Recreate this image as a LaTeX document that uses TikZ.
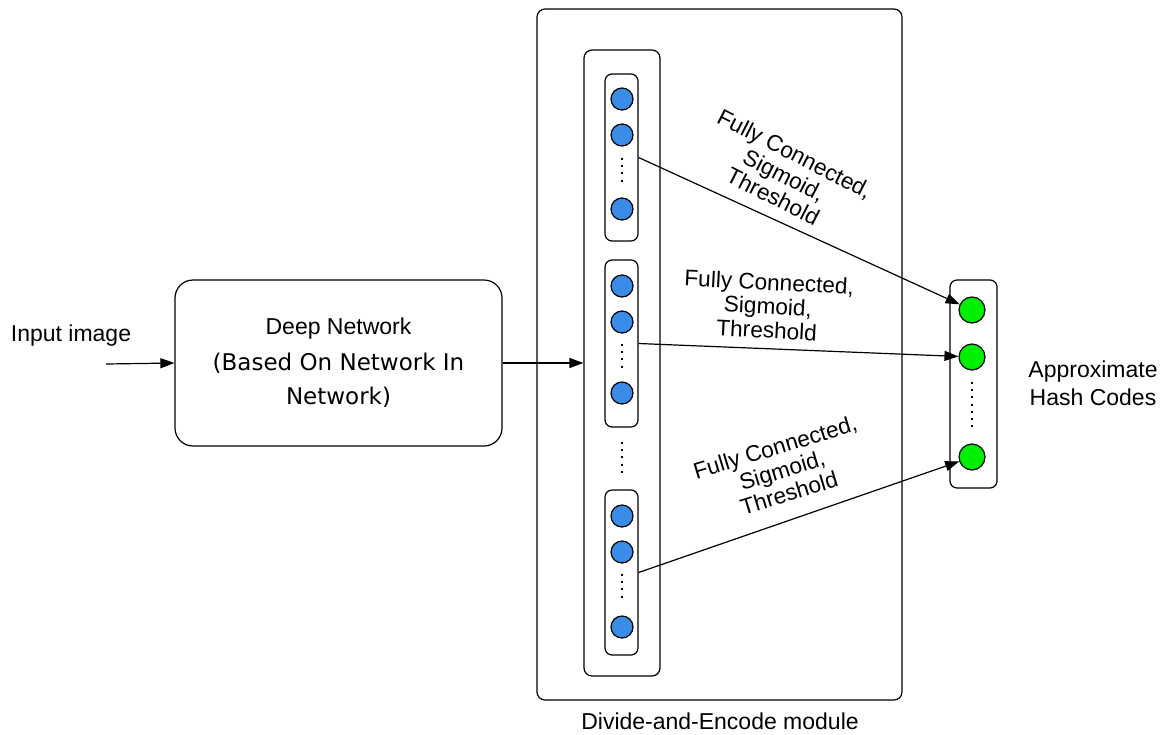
\documentclass[tikz,border=0pt]{standalone}
\usepackage{fontspec}
\setmainfont{Liberation Sans}
\newfontfamily\lucidafont{DejaVu Sans}
\usepackage{xcolor}
\usetikzlibrary{arrows.meta,positioning}

\definecolor{unitblue}{RGB}{58,140,232}
\definecolor{codegreen}{RGB}{0,238,0}

\begin{document}
\begin{tikzpicture}[
    x=0.5pt, y=-0.5pt,
    font=\fontsize{11.5}{11}\selectfont,
    line width=0.6pt,
    outerbox/.style={rectangle, draw, rounded corners=4pt, minimum width=182.5pt, minimum height=345.5pt, inner sep=0pt},
    colbox/.style={rectangle, draw, rounded corners=4pt, minimum width=38pt, minimum height=313pt, inner sep=0pt},
    grpbox/.style={rectangle, draw, rounded corners=3.5pt, minimum width=16.5pt, minimum height=83.5pt, inner sep=0pt},
    hashbox/.style={rectangle, draw, rounded corners=3.5pt, minimum width=23.5pt, minimum height=104pt, inner sep=0pt},
    netbox/.style={rectangle, draw, rounded corners=9pt, minimum width=163.5pt, minimum height=83pt, align=center},
    unit/.style={circle, draw, fill=unitblue, minimum size=11pt, inner sep=0pt},
    bit/.style={circle, draw, fill=codegreen, minimum size=13pt, inner sep=0pt},
    vdots/.style={line width=1pt, dash pattern=on 1pt off 2.6pt},
    fclabel/.style={align=center, inner sep=0pt, font=\fontsize{11.3}{12}\selectfont},
    arrow/.style={-{Triangle[length=7pt, width=5pt]}}
]
    \useasboundingbox (0,0) rectangle (1166,734);

    % left part
    \node (inlabel) at (71,336) {Input image};
    \coordinate (inp) at (106,364);
    \node [netbox] (deep) at (338.5,363) {Deep Network\\[6pt]{\lucidafont (Based On Network In}\\[6pt]{\lucidafont Network)}};
    \draw [arrow] (inp) -- (deep.west);

    % divide-and-encode module
    \node [outerbox] (dae) at (719.5,354.5) {};
    \node (daelabel) at (720,721) {Divide-and-Encode module};
    \node [colbox] (col) at (622,363) {};
    \draw [arrow] (deep.east) -- (deep.east -| col.west);

    \node [grpbox] (g1) at (621.5,157.5) {};
    \node [unit] (g1a) at (622,99) {};
    \node [unit] (g1b) at (622,135) {};
    \node [unit] (g1c) at (622,209) {};
    \draw [vdots] (622,158) -- (622,186);

    \node [grpbox] (g2) at (621.5,343.5) {};
    \node [unit] (g2a) at (622,286) {};
    \node [unit] (g2b) at (622,322) {};
    \node [unit] (g2c) at (622,393) {};
    \draw [vdots] (622,344) -- (622,372);

    \draw [vdots] (622,442) -- (622,475);

    \node [grpbox, minimum height=82.5pt] (g3) at (621.5,572.5) {};
    \node [unit] (g3a) at (622,516) {};
    \node [unit] (g3b) at (622,552) {};
    \node [unit] (g3c) at (622,627) {};
    \draw [vdots] (622,574) -- (622,602);

    % hash codes
    \node [hashbox] (hash) at (973.5,384) {};
    \node [bit] (o1) at (972,310) {};
    \node [bit] (o2) at (972,357) {};
    \node [bit] (o3) at (972,457) {};
    \draw [vdots] (972,382) -- (972,430);
    \node [align=center] (hashlabel) at (1093,383) {Approximate\\[3pt]Hash Codes};

    \draw [arrow] (g1.east) -- (o1);
    \draw [arrow] (g2.east) -- (o2);
    \draw [arrow] (g3.east) -- (o3);

    \node [fclabel, rotate=-27] (fc1) at (784,175) {Fully Connected,\\Sigmoid,\\Threshold};
    \node [fclabel, rotate=-3] (fc2) at (768,306) {Fully Connected,\\Sigmoid,\\Threshold};
    \node [fclabel, rotate=17] (fc3) at (782,470) {Fully Connected,\\Sigmoid,\\Threshold};
\end{tikzpicture}
\end{document}
